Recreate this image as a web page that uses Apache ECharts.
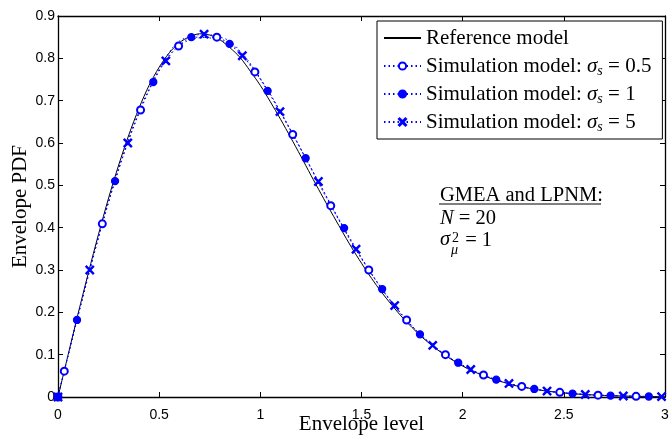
<!DOCTYPE html>
<html lang="en">
<head>
<meta charset="UTF-8" />
<script src="https://cdn.jsdelivr.net/npm/echarts@6/dist/echarts.min.js"></script>
<style>
html, body { margin: 0; padding: 0; background: #fff; }
#main { width: 671px; height: 438px; }
</style>
</head>
<body>
<div id="main"></div>
<script type="text/javascript">
// reference model
var refX = [0, 0.05, 0.1, 0.15, 0.2, 0.25, 0.3, 0.35, 0.4, 0.45, 0.5, 0.55, 0.6, 0.65, 0.7,
  0.75, 0.8, 0.85, 0.9, 0.95, 1.0, 1.05, 1.1, 1.15, 1.2, 1.25, 1.3, 1.35, 1.4, 1.45, 1.5,
  1.55, 1.6, 1.65, 1.7, 1.75, 1.8, 1.85, 1.9, 1.95, 2.0, 2.05, 2.1, 2.15, 2.2, 2.25, 2.3,
  2.35, 2.4, 2.45, 2.5, 2.55, 2.6, 2.65, 2.7, 2.75, 2.8, 2.85, 2.9, 2.95, 3.0];
var refY = [0, 0.0998, 0.198, 0.293, 0.384, 0.470, 0.548, 0.619, 0.682, 0.736, 0.779, 0.813,
  0.837, 0.851, 0.858, 0.855, 0.844, 0.825, 0.802, 0.770, 0.736, 0.697, 0.656, 0.613, 0.569,
  0.524, 0.480, 0.437, 0.395, 0.354, 0.316, 0.280, 0.247, 0.217, 0.189, 0.164, 0.141, 0.121,
  0.103, 0.087, 0.073, 0.061, 0.051, 0.042, 0.035, 0.028, 0.023, 0.019, 0.015, 0.012, 0.0097,
  0.0076, 0.0060, 0.0047, 0.0037, 0.0028, 0.0022, 0.0017, 0.0013, 0.0010, 0.0007];

// simulation model, sigma_s = 0.5 (circles)
var s05X = [0, 0.031, 0.219, 0.408, 0.596, 0.785, 0.973, 1.160, 1.348, 1.536, 1.723, 1.915,
  2.103, 2.292, 2.480, 2.669, 2.857];
var s05Y = [0, 0.061, 0.409, 0.678, 0.829, 0.850, 0.768, 0.620, 0.452, 0.300, 0.182, 0.100,
  0.052, 0.025, 0.011, 0.0043, 0.0016];

// sigma_s = 1 (dots)
var s1X = [0, 0.094, 0.282, 0.471, 0.659, 0.848, 1.036, 1.224, 1.414, 1.602, 1.789, 1.978,
  2.166, 2.354, 2.543, 2.731, 2.920];
var s1Y = [0, 0.182, 0.510, 0.744, 0.850, 0.834, 0.723, 0.564, 0.399, 0.255, 0.148, 0.081,
  0.041, 0.019, 0.008, 0.0031, 0.0012];

// sigma_s = 5 (crosses)
var s5X = [0, 0.157, 0.345, 0.533, 0.722, 0.911, 1.097, 1.287, 1.473, 1.664, 1.852, 2.040,
  2.229, 2.417, 2.606, 2.794, 2.983];
var s5Y = [0, 0.300, 0.600, 0.794, 0.857, 0.806, 0.674, 0.509, 0.349, 0.216, 0.122, 0.065,
  0.032, 0.014, 0.006, 0.0023, 0.0008];

var xTicks = { min: 0, max: 3, interval: 0.5 };
var yTicks = { min: 0, max: 0.9, interval: 0.1 };

function pairs(xs, ys) {
  return xs.map(function (x, i) { return [x, ys[i]]; });
}

var serif = 'Liberation Serif';
var blue = '#0000ff';
var crossPath = 'path://M1,0L5,4L9,0L10,1L6,5L10,9L9,10L5,6L1,10L0,9L4,5L0,1Z';

var legendNames = {
  ref: 'Reference model',
  s05: 'Simulation model: {i|σ}{sub|s} = 0.5',
  s1: 'Simulation model: {i|σ}{sub|s} = 1',
  s5: 'Simulation model: {i|σ}{sub|s} = 5'
};

function simSeries(name, data, symbol, size) {
  return {
    name: name,
    type: 'line',
    data: data,
    smooth: 0.4,
    symbol: symbol,
    symbolSize: size,
    showAllSymbol: true,
    lineStyle: { color: blue, width: 1, type: [1.5, 3] },
    itemStyle: { color: blue, borderColor: blue, borderWidth: 1.3 },
    z: 3
  };
}

var axisCommon = {
  type: 'value',
  axisLine: { show: true, onZero: false, lineStyle: { color: '#000', width: 1.3 } },
  axisTick: { show: true, inside: true, length: 5, lineStyle: { color: '#000', width: 1 } },
  splitLine: { show: false }
};

var chart = echarts.init(document.getElementById('main'));
chart.setOption({
  animation: false,
  backgroundColor: '#fff',
  grid: { left: 58, right: 6, top: 16, bottom: 41, outerBoundsMode: 'none', containLabel: false },
  xAxis: [
    Object.assign({}, axisCommon, xTicks, {
      position: 'bottom',
      name: 'Envelope level',
      nameLocation: 'middle',
      nameGap: 17,
      nameMoveOverlap: false,
      nameTextStyle: { fontFamily: serif, fontSize: 21, color: '#000', verticalAlign: 'top' },
      axisLabel: { color: '#000', fontFamily: 'Liberation Sans', fontSize: 14, margin: 11 }
    }),
    Object.assign({}, axisCommon, xTicks, { position: 'top', axisLabel: { show: false } })
  ],
  yAxis: [
    Object.assign({}, axisCommon, yTicks, {
      position: 'left',
      name: 'Envelope PDF',
      nameLocation: 'middle',
      nameGap: 27,
      nameMoveOverlap: false,
      nameTextStyle: { fontFamily: serif, fontSize: 21, color: '#000' },
      axisLabel: { color: '#000', fontFamily: 'Liberation Sans', fontSize: 14, margin: 3 }
    }),
    Object.assign({}, axisCommon, yTicks, { position: 'right', axisLabel: { show: false } })
  ],
  legend: {
    orient: 'vertical',
    left: 377,
    top: 21,
    padding: [5, 11, 5, 6],
    itemGap: 4,
    itemWidth: 37,
    itemHeight: 9,
    backgroundColor: '#fff',
    borderColor: '#000',
    borderWidth: 1,
    borderRadius: 0,
    data: [
      { name: 'ref', itemStyle: { color: 'rgba(0,0,0,0)', borderWidth: 0 } },
      's05', 's1', 's5'
    ],
    formatter: function (name) { return legendNames[name]; },
    textStyle: {
      fontFamily: serif, fontSize: 21, color: '#000', lineHeight: 24,
      rich: {
        i: { fontFamily: serif, fontSize: 21, fontStyle: 'italic', lineHeight: 24 },
        sub: { fontFamily: serif, fontSize: 14, fontStyle: 'italic', lineHeight: 14, verticalAlign: 'bottom' }
      }
    }
  },
  graphic: [
    { type: 'text', left: 440, top: 185,
      style: { text: 'GMEA and LPNM:', font: '20.5px "Liberation Serif"', fill: '#000' } },
    { type: 'line', shape: { x1: 439, y1: 204, x2: 601, y2: 204 },
      style: { stroke: '#000', lineWidth: 1 } },
    { type: 'text', left: 440, top: 208,
      style: {
        text: '{i|N} = 20', font: '20.5px "Liberation Serif"', fill: '#000',
        rich: { i: { fontStyle: 'italic', fontFamily: serif, fontSize: 20.5 } }
      } },
    { type: 'text', left: 440, top: 230,
      style: { text: 'σ', font: 'italic 20.5px "Liberation Serif"', fill: '#000' } },
    { type: 'text', left: 452, top: 231,
      style: { text: '2', font: '14px "Liberation Serif"', fill: '#000' } },
    { type: 'text', left: 451, top: 243,
      style: { text: 'μ', font: 'italic 14px "Liberation Serif"', fill: '#000' } },
    { type: 'text', left: 460, top: 230,
      style: { text: ' = 1', font: '20.5px "Liberation Serif"', fill: '#000' } }
  ],
  series: [
    {
      name: 'ref',
      type: 'line',
      data: pairs(refX, refY),
      smooth: 0.3,
      symbol: 'none',
      lineStyle: { color: '#000', width: 1 },
      itemStyle: { color: '#000' },
      z: 2
    },
    simSeries('s05', pairs(s05X, s05Y), 'emptyCircle', 7),
    simSeries('s1', pairs(s1X, s1Y), 'circle', 7),
    simSeries('s5', pairs(s5X, s5Y), crossPath, 8)
  ]
});
</script>
</body>
</html>
